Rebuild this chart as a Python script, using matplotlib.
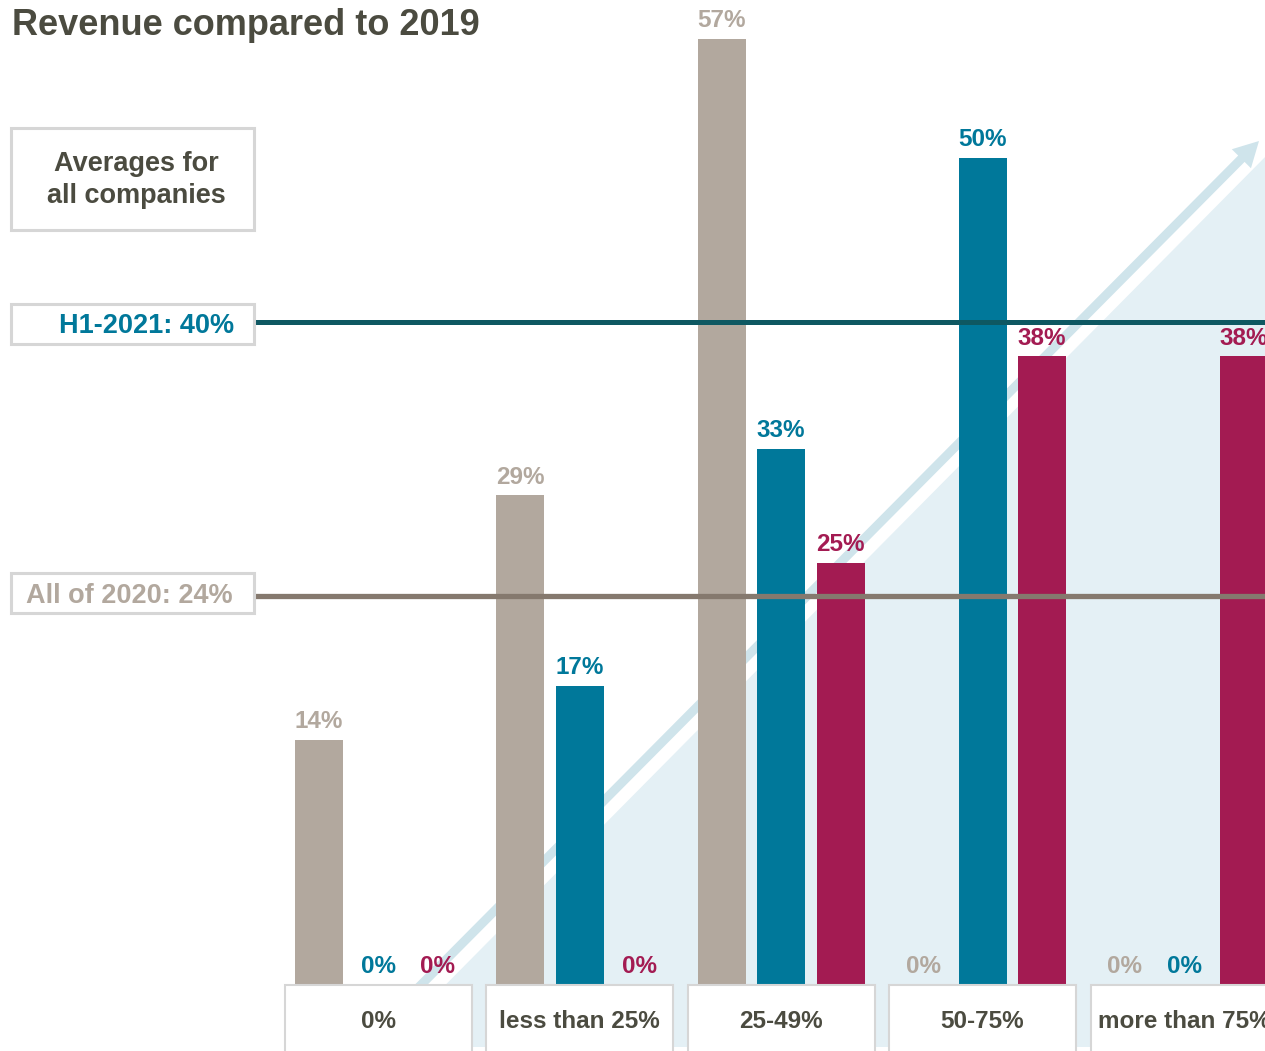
import matplotlib
matplotlib.use("Agg")
import matplotlib.pyplot as plt
from matplotlib.patches import Rectangle, Polygon, FancyArrow
from matplotlib.transforms import Affine2D

# ---------------- data ----------------
categories = ["0%", "less than 25%", "25-49%", "50-75%", "more than 75%"]
series_names = ["Series A", "Series B", "Series C"]
vals_gray = [14.8, 29.6, 57.2, 0, 0]
vals_teal = [0, 18.1, 32.4, 50.0, 0]
vals_red = [0, 0, 25.5, 38.0, 38.0]
labels_gray = ["14%", "29%", "57%", "0%", "0%"]
labels_teal = ["0%", "17%", "33%", "50%", "0%"]
labels_red = ["0%", "0%", "25%", "38%", "38%"]
avg_h1_2021 = 40.1
avg_2020 = 23.5
avg_h1_label = "H1-2021: 40%"
avg_2020_label = "All of 2020: 24%"

# ---------------- style ----------------
C_GRAY = "#B2A89E"
C_TEAL = "#00789A"
C_RED = "#A31B52"
C_TEXT = "#4B4B40"
C_LINE_H1 = "#0E5862"
C_LINE_20 = "#85796E"
C_BG = "#E4F0F5"
C_ARROW = "#CFE4EB"
C_BORDER = "#D6D6D6"

plt.rcParams['font.family'] = ['Liberation Sans', 'DejaVu Sans']

W, H = 1265, 1051
fig = plt.figure(figsize=(W / 100, H / 100), dpi=100)
ax = fig.add_axes([0, 0, 1, 1])

GX0, GDX = 378.0, 201.5     # pixel centre of first group, pixels per group
BASE, PPU = 985.0, 16.54    # baseline pixel, pixels per percent


def px2x(p):
    return (p - GX0) / GDX


def py2y(p):
    return (BASE - p) / PPU


ax.set_xlim(px2x(0), px2x(W))
ax.set_ylim(py2y(H), py2y(0))
ax.axis("off")

# pixel-space transform (origin top-left)
pix = Affine2D().scale(1 / W, -1 / H).translate(0, 1) + fig.transFigure

# background triangle and arrow
tri = Polygon([(384, 1047), (1272, 150), (1272, 1047)], closed=True,
              facecolor=C_BG, edgecolor="none", transform=pix, zorder=0)
ax.add_patch(tri)
arr = FancyArrow(403, 1003, 1259 - 403, 141 - 1003, width=9, head_width=27,
                 head_length=25, length_includes_head=True, color=C_ARROW,
                 transform=pix, zorder=0.5, linewidth=0)
ax.add_patch(arr)

# bars
off = 59.5 / GDX
bw = 48 / GDX
idx = list(range(len(categories)))
for vals, labs, col, d in [(vals_gray, labels_gray, C_GRAY, -off),
                           (vals_teal, labels_teal, C_TEAL, 0.0),
                           (vals_red, labels_red, C_RED, off)]:
    xs = [i + d for i in idx]
    ax.bar(xs, vals, width=bw, color=col, zorder=2, linewidth=0)
    for x, v, lab in zip(xs, vals, labs):
        ax.annotate(lab, (x, v), xytext=(0, 8.5), textcoords="offset points",
                    ha="center", va="baseline", fontsize=17.5, fontweight="bold",
                    color=col, zorder=4)

# average lines
ax.hlines(avg_h1_2021, px2x(254), px2x(W), color=C_LINE_H1, lw=3.6, zorder=3)
ax.hlines(avg_2020, px2x(254), px2x(W), color=C_LINE_20, lw=3.8, zorder=3)

# category boxes
box_w = 187 / GDX
for i, cat in enumerate(categories):
    r = Rectangle((i - box_w / 2, py2y(1070)), box_w, py2y(BASE) - py2y(1070),
                  facecolor="white", edgecolor=C_BORDER, lw=1.5, zorder=3)
    ax.add_patch(r)
    ax.text(i, py2y(1021), cat, ha="center", va="center", fontsize=17.5,
            fontweight="bold", color=C_TEXT, zorder=4)

# left boxes
for (x0, y0, x1, y1) in [(11, 128, 254, 230), (11, 304, 254, 344), (11, 573, 254, 613)]:
    ax.add_patch(Rectangle((x0, y0), x1 - x0, y1 - y0, transform=pix,
                           facecolor="white", edgecolor=C_BORDER, lw=2.2, zorder=3))

ax.text(136, 180, "Averages for\nall companies", transform=pix, ha="center",
        va="center", fontsize=19.5, fontweight="bold", color=C_TEXT,
        linespacing=1.32, zorder=4)
ax.text(234, 326, avg_h1_label, transform=pix, ha="right", va="center",
        fontsize=19.5, fontweight="bold", color=C_TEAL, zorder=4)
ax.text(233, 596, avg_2020_label, transform=pix, ha="right", va="center",
        fontsize=19.5, fontweight="bold", color=C_GRAY, zorder=4)

# title
ax.text(12, 35, "Revenue compared to 2019", transform=pix, ha="left",
        va="baseline", fontsize=26, fontweight="bold", color=C_TEXT, zorder=4)

fig.savefig("out.png", dpi=100)
